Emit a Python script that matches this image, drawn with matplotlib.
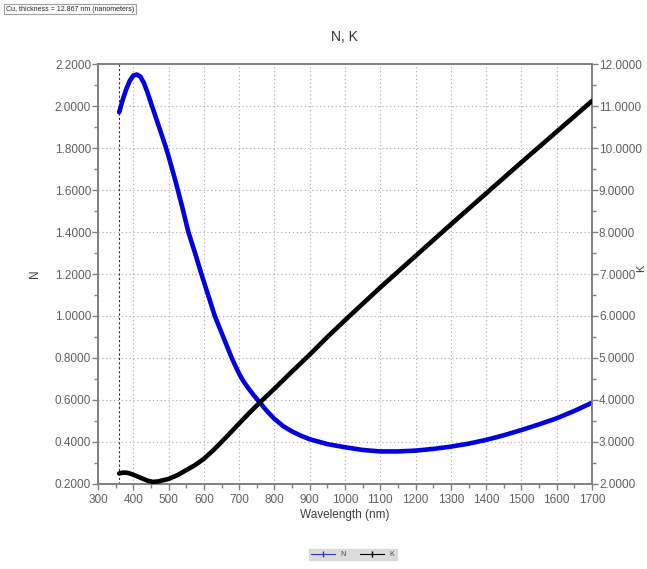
import matplotlib
matplotlib.use('Agg')
import matplotlib.pyplot as plt
from matplotlib.ticker import MultipleLocator, FormatStrFormatter
from matplotlib.lines import Line2D

plt.rcParams['font.family'] = ['Liberation Sans', 'DejaVu Sans']

# -------------------------------
# data
# -------------------------------
wl_n = [360, 370, 380, 390, 400, 410, 420, 430, 440, 450, 460, 470, 480, 490,
        500, 510, 520, 530, 540, 556, 575, 593, 612, 631, 655, 679, 690, 700,
        710, 720, 740, 760, 780, 800, 825, 850, 875, 900, 950, 1000, 1050,
        1100, 1150, 1200, 1250, 1300, 1350, 1400, 1450, 1500, 1550, 1600,
        1650, 1700]
n_vals = [1.97, 2.03, 2.08, 2.12, 2.145, 2.15, 2.14, 2.11, 2.065, 2.015, 1.965,
          1.915, 1.865, 1.815, 1.76, 1.70, 1.64, 1.575, 1.51, 1.40, 1.30, 1.20,
          1.10, 1.00, 0.90, 0.80, 0.76, 0.725, 0.695, 0.67, 0.625, 0.585,
          0.545, 0.51, 0.475, 0.45, 0.43, 0.413, 0.39, 0.375, 0.362, 0.355,
          0.355, 0.359, 0.367, 0.378, 0.392, 0.41, 0.432, 0.457, 0.484, 0.513,
          0.548, 0.587]

wl_k = [360, 370, 380, 390, 400, 420, 440, 455, 470, 490, 500, 525, 550, 575,
        600, 625, 650, 675, 700, 725, 750, 775, 800, 850, 900, 950, 1000, 1050,
        1100, 1200, 1300, 1400, 1500, 1600, 1700]
k_vals = [2.25, 2.27, 2.27, 2.25, 2.22, 2.15, 2.08, 2.05, 2.06, 2.10, 2.12,
          2.21, 2.33, 2.45, 2.60, 2.79, 3.00, 3.22, 3.44, 3.66, 3.87, 4.07,
          4.27, 4.68, 5.08, 5.50, 5.90, 6.29, 6.68, 7.43, 8.18, 8.92, 9.66,
          10.39, 11.12]

marker_wl = 360
info_text = "Cu, thickness = 12.867 nm (nanometers)"

grey = '#606060'

fig = plt.figure(figsize=(6.47, 5.69), dpi=100)
ax = fig.add_axes([0.1515, 0.1494, 0.7635, 0.7381])
ax2 = ax.twinx()

ax.grid(True, which='major', color='#a8a8a8', linestyle=(0, (1, 2.5)), linewidth=0.8)
ax.set_axisbelow(True)

ax.plot(wl_n, n_vals, color='#0000e0', linewidth=3.3, solid_capstyle='round',
        solid_joinstyle='round', zorder=3)
ax2.plot(wl_k, k_vals, color='black', linewidth=3.3, solid_capstyle='round',
         solid_joinstyle='round', zorder=3)
ax.axvline(marker_wl, color='#303030', linestyle=(0, (2, 2)), linewidth=0.8, zorder=2)

ax.set_xlim(300, 1700)
ax.set_ylim(0.2, 2.2)
ax2.set_ylim(2.0, 12.0)

ax.xaxis.set_major_locator(MultipleLocator(100))
ax.xaxis.set_minor_locator(MultipleLocator(50))
ax.yaxis.set_major_locator(MultipleLocator(0.2))
ax.yaxis.set_minor_locator(MultipleLocator(0.1))
ax.yaxis.set_major_formatter(FormatStrFormatter('%.4f'))
ax2.yaxis.set_major_locator(MultipleLocator(1.0))
ax2.yaxis.set_minor_locator(MultipleLocator(0.5))
ax2.yaxis.set_major_formatter(FormatStrFormatter('%.4f'))

for a in (ax, ax2):
    for s in a.spines.values():
        s.set_color('#808080')
        s.set_linewidth(1.2)
    a.tick_params(which='both', colors='#808080', labelcolor=grey, labelsize=8.5,
                  direction='out')
    a.tick_params(which='major', length=4, width=1)
    a.tick_params(which='minor', length=3, width=1)
    a.tick_params(axis='y', pad=1)

ax.set_xlabel("Wavelength (nm)", fontsize=8.5, color='#404040', labelpad=2)
ax.set_ylabel("N", fontsize=8.5, color='#404040', labelpad=10)
fig.text(0.991, 0.528, "K", fontsize=8, color='#404040', rotation=90,
         ha='center', va='center')
fig.text(0.533, 0.935, "N, K", fontsize=10, color='#303030', ha='center', va='center')

# small info box top-left
fig.text(0.009, 0.984, info_text, fontsize=5, color='#202020', ha='left', va='center',
         bbox=dict(boxstyle='square,pad=0.25', fc='white', ec='#a0a0a0', lw=0.8))

# legend at bottom
handles = [Line2D([0], [0], color='#3030e0', lw=0.8, marker='|', markersize=5),
           Line2D([0], [0], color='black', lw=0.8, marker='|', markersize=5)]
leg = fig.legend(handles, ["N", "K"], loc='center', bbox_to_anchor=(0.545, 0.025),
                 ncol=2, fontsize=5, frameon=True, fancybox=False, handlelength=3.5,
                 columnspacing=2.0, borderpad=0.3, handletextpad=0.8)
leg.get_frame().set_facecolor('#d4d4d4')
leg.get_frame().set_edgecolor('#d4d4d4')
for t in leg.get_texts():
    t.set_color('#404040')

fig.savefig('out.png', dpi=100)
